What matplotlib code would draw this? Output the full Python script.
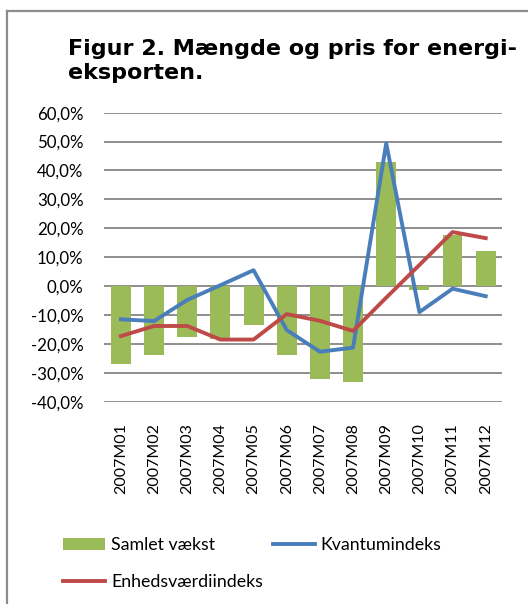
import matplotlib
matplotlib.use("Agg")
import matplotlib.pyplot as plt
from matplotlib.lines import Line2D
from matplotlib.patches import Patch
from matplotlib.ticker import FuncFormatter

categories = ["2007M01", "2007M02", "2007M03", "2007M04", "2007M05", "2007M06",
              "2007M07", "2007M08", "2007M09", "2007M10", "2007M11", "2007M12"]
samlet_vaekst = [-26.8, -23.9, -17.5, -18.2, -13.5, -23.9, -32.0, -33.2, 43.0, -1.4, 17.6, 12.3]
kvantumindeks = [-11.5, -12.1, -4.8, 0.3, 5.5, -15.2, -22.7, -21.3, 49.4, -9.0, -0.9, -3.5]
enhedsvaerdiindeks = [-17.3, -13.8, -13.8, -18.5, -18.5, -9.7, -12.0, -15.5, -4.0, 7.3, 18.7, 16.6]
yticks = [-40, -30, -20, -10, 0, 10, 20, 30, 40, 50, 60]

GREEN = "#9BBB59"
BLUE = "#4A7EBB"
RED = "#BE4B48"
GRID = "#868686"
FONT = ["Lato", "DejaVu Sans"]

W, H = 528, 604
fig = plt.figure(figsize=(W / 100, H / 100), dpi=100)

# frame
fig.add_artist(Line2D([7 / W, 7 / W], [0, 1 - 11 / H], transform=fig.transFigure,
                      color="#8C8C8C", lw=1.6))
fig.add_artist(Line2D([7 / W, 1], [1 - 11 / H, 1 - 11 / H], transform=fig.transFigure,
                      color="#8C8C8C", lw=1.6))

left, right = 104.3 / W, 502.3 / W
top, bottom = 1 - 112.7 / H, 1 - 401.7 / H
ax = fig.add_axes([left, bottom, right - left, top - bottom])

x = list(range(len(categories)))
ax.bar(x, samlet_vaekst, width=0.6, color=GREEN, zorder=2)
ax.plot(x, kvantumindeks, color=BLUE, lw=2.8, zorder=3, solid_joinstyle="round")
ax.plot(x, enhedsvaerdiindeks, color=RED, lw=2.8, zorder=4, solid_joinstyle="round")

ax.set_xlim(-0.5, len(categories) - 0.5)
ax.set_ylim(-40, 60)
ax.set_yticks(yticks)
ax.yaxis.set_major_formatter(FuncFormatter(lambda v, p: f"{v:.1f}%".replace(".", ",")))
ax.grid(axis="y", color=GRID, lw=1.3, zorder=0)
for s in ax.spines.values():
    s.set_visible(False)
ax.set_xticks(x)
ax.set_xticklabels(categories, rotation=90, fontfamily=FONT, fontsize=11.5)
ax.tick_params(axis="x", length=0, pad=15.5)
ax.tick_params(axis="y", length=0, pad=15, labelsize=12.2)
for t in ax.get_yticklabels():
    t.set_fontfamily(FONT)
for t in ax.get_xticklabels():
    t.set_va("top")

fig.text(68 / W, 1 - 39 / H, "Figur 2. Mængde og pris for energi-\neksporten.",
         fontfamily="DejaVu Sans", fontweight="bold", fontsize=16, va="top", ha="left",
         linespacing=1.27)

handles = [Patch(facecolor=GREEN, edgecolor="none"),
           Line2D([], [], color=RED, lw=2.8),
           Line2D([], [], color=BLUE, lw=2.8)]
labels = ["Samlet vækst", "Enhedsværdiindeks", "Kvantumindeks"]
leg = fig.legend(handles, labels, ncol=2, loc="upper left",
                 bbox_to_anchor=(63 / W, 1 - 537 / H), frameon=False,
                 prop={"family": FONT, "size": 12.8}, handlelength=2.36,
                 handleheight=0.62, handletextpad=0.34, columnspacing=0.56,
                 labelspacing=1.2, borderpad=0, borderaxespad=0)

fig.savefig("out.png", dpi=100)
